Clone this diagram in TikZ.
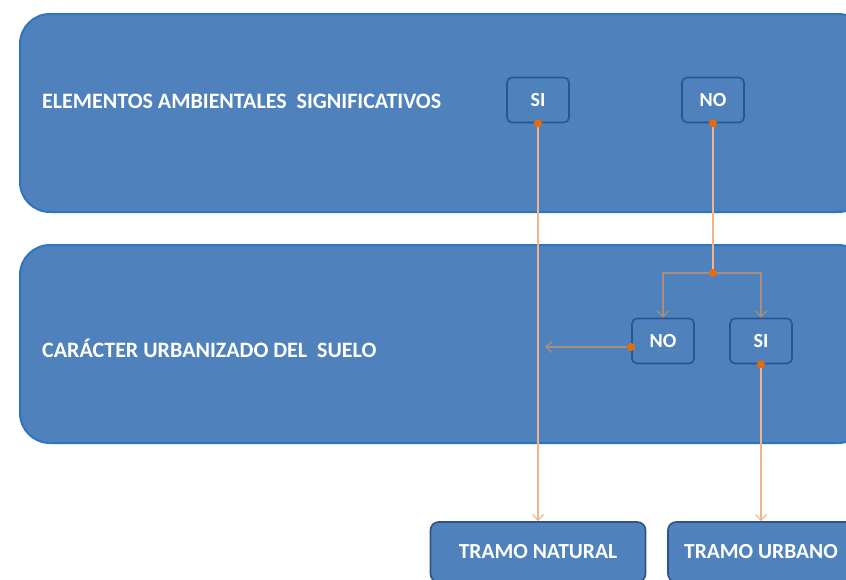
\documentclass[tikz,border=0pt]{standalone}
\usepackage{fontspec}
\setmainfont{Carlito}
\usetikzlibrary{arrows.meta}
\definecolor{panelfill}{HTML}{4F81BD}
\definecolor{panelborder}{HTML}{2E74C0}
\definecolor{boxborder}{HTML}{2F5588}
\definecolor{orangeline}{HTML}{F2B48A}
\definecolor{grayline}{HTML}{A88E7C}
\definecolor{dotcol}{HTML}{E46C0A}
\tikzset{
  panel/.style={draw=panelborder, line width=2pt, fill=panelfill, rounded corners=30pt},
  smallbox/.style={draw=boxborder, line width=1.6pt, fill=panelfill, rounded corners=5pt, minimum width=62pt, minimum height=45pt, text=white, font=\fontsize{20}{22}\selectfont\bfseries, inner sep=0pt},
  endbox/.style={draw=boxborder, line width=1.6pt, fill=panelfill, rounded corners=8pt, text=white, font=\fontsize{21.5}{24}\selectfont\bfseries, inner sep=0pt},
  lbl/.style={text=white, font=\fontsize{22}{24}\selectfont\bfseries, anchor=west, inner sep=0pt},
  oline/.style={draw=orangeline, line width=1.2pt},
  gline/.style={draw=grayline, line width=1.2pt},
  tip/.style={-{Straight Barb[length=6pt,width=11pt]}},
  dot/.style={circle, fill=dotcol, inner sep=0pt, minimum size=8pt}
}
\begin{document}
\begin{tikzpicture}[x=1pt,y=-1pt]
\useasboundingbox (0,0) rectangle (846,579);
\fill[white] (0,0) rectangle (846,579);
\draw[panel] (20,14) rectangle (868,212);
\draw[panel] (20,245) rectangle (868,443);
\node[lbl] (t1) at (42,101) {ELEMENTOS AMBIENTALES\ \ SIGNIFICATIVOS};
\node[lbl] (t2) at (42,348) {CARÁCTER URBANIZADO DEL\ \ SUELO};
\node[smallbox] (si1) at (538,100) {SI};
\node[smallbox] (no1) at (713,100) {NO};
\node[smallbox] (no2) at (663,341) {NO};
\node[smallbox] (si2) at (761,341) {SI};
\node[endbox, minimum width=215pt, minimum height=60pt] (tn) at (538,552) {\raisebox{1pt}{TRAMO NATURAL}};
\node[endbox, minimum width=200pt, minimum height=60pt] (tu) at (768,552) {\hspace*{-14pt}\raisebox{1pt}{TRAMO URBANO}};
\coordinate (j) at (713,273);
\coordinate (stopleft) at (545,347);
% connectors
\draw[oline, tip] (si1.south) -- (si1.south |- tn.north);
\draw[oline] (no1.south) -- (j);
\draw[gline, tip] (j) -| (no2.north);
\draw[gline, tip] (j) -| (si2.north);
\draw[gline, tip] (no2.west |- stopleft) -- (stopleft);
\draw[oline, tip] (si2.south) -- (si2.south |- tu.north);
\node[dot] at (si1.south) {};
\node[dot] at (no1.south) {};
\node[dot] at (j) {};
\node[dot] at (no2.west |- stopleft) {};
\node[dot] at (si2.south) {};
\end{tikzpicture}
\end{document}
